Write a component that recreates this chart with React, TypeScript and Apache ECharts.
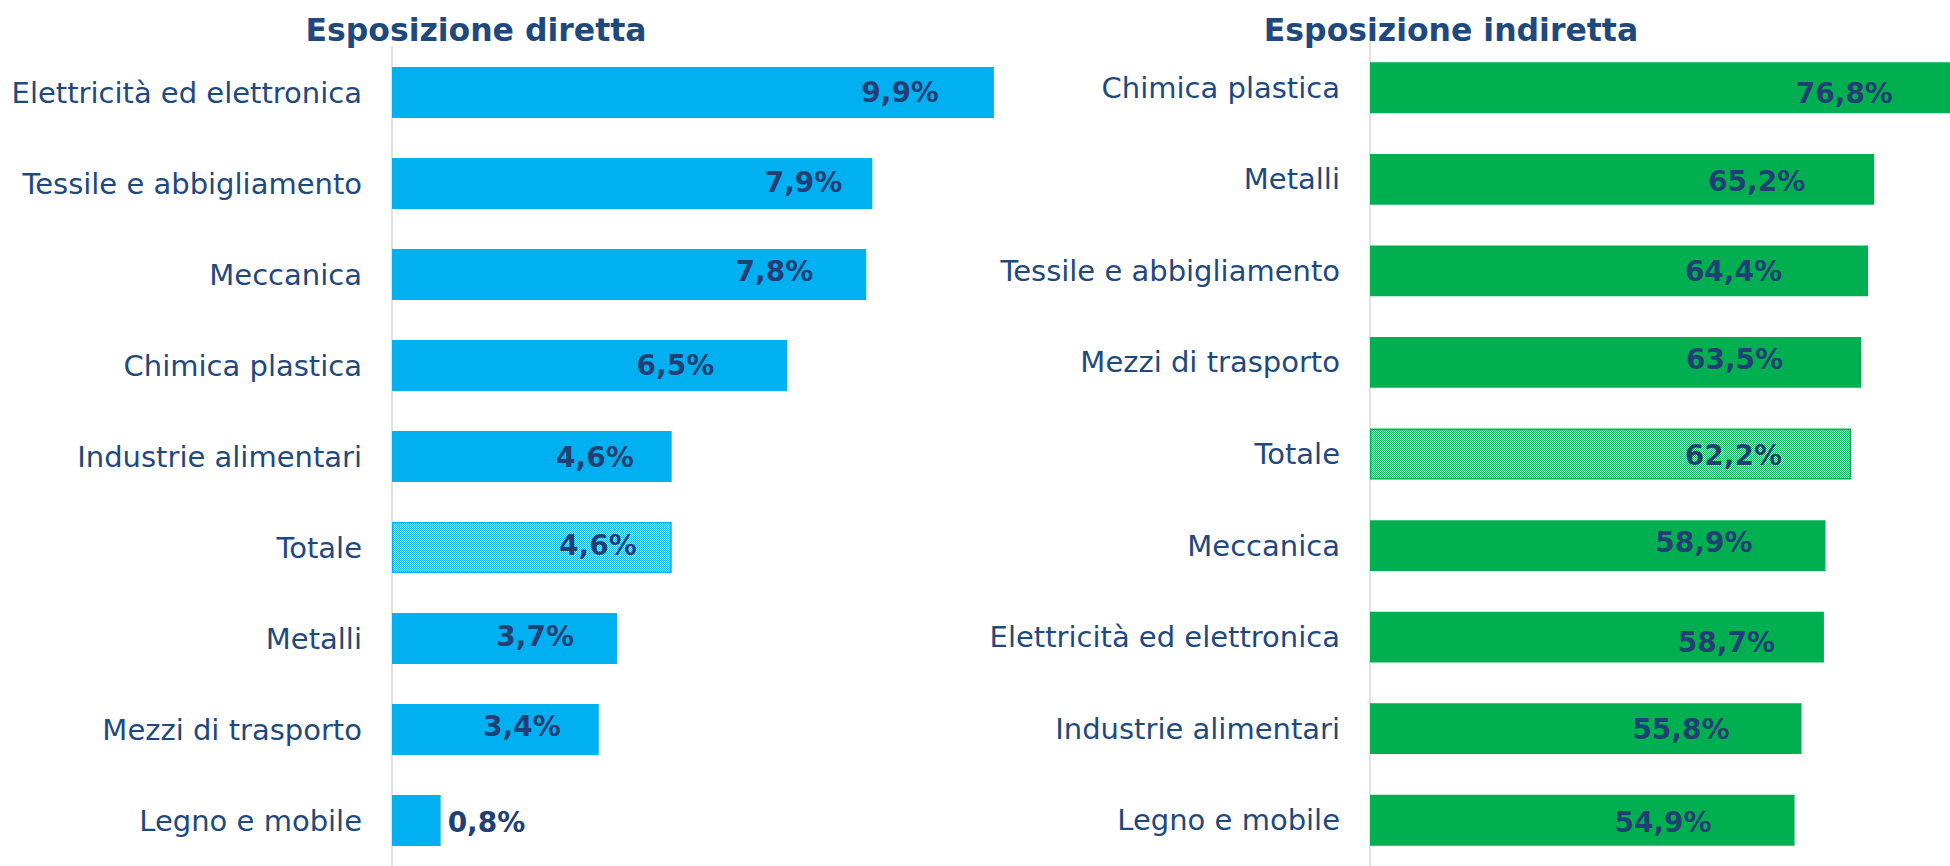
import React, { useEffect, useRef } from "react";
import * as echarts from "echarts";

const directTitle = "Esposizione diretta";
const indirectTitle = "Esposizione indiretta";

const directCategories = [
  "Elettricità ed elettronica",
  "Tessile e abbigliamento",
  "Meccanica",
  "Chimica plastica",
  "Industrie alimentari",
  "Totale",
  "Metalli",
  "Mezzi di trasporto",
  "Legno e mobile",
];
const directValues = [9.9, 7.9, 7.8, 6.5, 4.6, 4.6, 3.7, 3.4, 0.8];

const indirectCategories = [
  "Chimica plastica",
  "Metalli",
  "Tessile e abbigliamento",
  "Mezzi di trasporto",
  "Totale",
  "Meccanica",
  "Elettricità ed elettronica",
  "Industrie alimentari",
  "Legno e mobile",
];
const indirectValues = [76.8, 65.2, 64.4, 63.5, 62.2, 58.9, 58.7, 55.8, 54.9];

// small manual nudges of the value labels, as placed in the original
const directLabelNudge = [
  [-11, 0], [14, -1], [-9, -3], [-29, 0], [6, 1], [9, -2], [1, -2], [6, -3], [0, 2],
];
const indirectLabelNudge = [
  [1, 6], [3, 2], [-14, 1], [-6, -3], [3, 1], [-1, -3], [23, 5], [0, 1], [-11, 2],
];

const BLUE = "#00B0F0";
const GREEN = "#00B050";
const TEXT = "#1F497D";
const LABEL = "#203F74";
const FONT = "'DejaVu Sans', Verdana, sans-serif";

function makePattern(color: string) {
  const c = document.createElement("canvas");
  c.width = 2;
  c.height = 2;
  const ctx = c.getContext("2d")!;
  ctx.fillStyle = "#ffffff";
  ctx.fillRect(0, 0, 2, 2);
  ctx.fillStyle = color;
  ctx.fillRect(0, 0, 1, 1);
  ctx.fillRect(1, 1, 1, 1);
  return { image: c, repeat: "repeat" } as any;
}

function fmt(v: number) {
  return v.toFixed(1).replace(".", ",") + "%";
}

export default function App() {
  const ref = useRef<HTMLDivElement>(null);
  useEffect(() => {
    if (!ref.current) return;
    const chart = echarts.init(ref.current, null, { renderer: "svg" });

    const build = (
      cats: string[],
      vals: number[],
      nudge: number[][],
      color: string,
      smallThreshold: number
    ) =>
      vals.map((v, i) => {
        const item: any = { value: v, label: { offset: nudge[i] } };
        if (cats[i] === "Totale") {
          item.itemStyle = {
            color: makePattern(color),
            borderColor: color,
            borderWidth: 1.5,
          };
        }
        if (v < smallThreshold) {
          item.label = { position: "right", distance: 7, offset: nudge[i] };
        }
        return item;
      });

    const labelStyle = (dist: number) => ({
      show: true,
      position: "insideRight",
      distance: dist,
      color: LABEL,
      fontFamily: FONT,
      fontWeight: "bold",
      fontSize: 28,
      formatter: (p: any) => fmt(p.value),
    });

    const catAxis = (cats: string[], gridIndex: number) => ({
      type: "category",
      gridIndex,
      data: cats,
      inverse: true,
      axisLine: { show: true, lineStyle: { color: "#D9D9D9", width: 1.5 } },
      axisTick: { show: false },
      axisLabel: {
        color: TEXT,
        fontFamily: FONT,
        fontSize: 29,
        margin: 30,
      },
    });

    const titleStyle = { color: TEXT, fontFamily: FONT, fontWeight: "bold", fontSize: 31.5 };

    chart.setOption({
      animation: false,
      backgroundColor: "#ffffff",
      title: [
        { text: directTitle, left: 471, top: 9, textAlign: "center", textStyle: titleStyle },
        { text: indirectTitle, left: 1446, top: 9, textAlign: "center", textStyle: titleStyle },
      ],
      grid: [
        { left: 392, top: 47, width: 608, height: 824, containLabel: false },
        { left: 1370, top: 42, width: 580, height: 832, containLabel: false },
      ],
      xAxis: [
        { type: "value", gridIndex: 0, min: 0, max: 10, show: false },
        { type: "value", gridIndex: 1, min: 0, max: 75, show: false },
      ],
      yAxis: [catAxis(directCategories, 0), catAxis(indirectCategories, 1)],
      series: [
        {
          type: "bar",
          xAxisIndex: 0,
          yAxisIndex: 0,
          clip: false,
          data: build(directCategories, directValues, directLabelNudge, BLUE, 2),
          itemStyle: { color: BLUE },
          barCategoryGap: "44%",
          label: labelStyle(44),
        },
        {
          type: "bar",
          xAxisIndex: 1,
          yAxisIndex: 1,
          clip: false,
          data: build(indirectCategories, indirectValues, indirectLabelNudge, GREEN, 10),
          itemStyle: { color: GREEN },
          barCategoryGap: "44.5%",
          label: labelStyle(72),
        },
      ],
    });
    return () => chart.dispose();
  }, []);
  return (
    <div
      ref={ref}
      style={{ position: "absolute", left: 0, top: 0, width: 1950, height: 866 }}
    />
  );
}
